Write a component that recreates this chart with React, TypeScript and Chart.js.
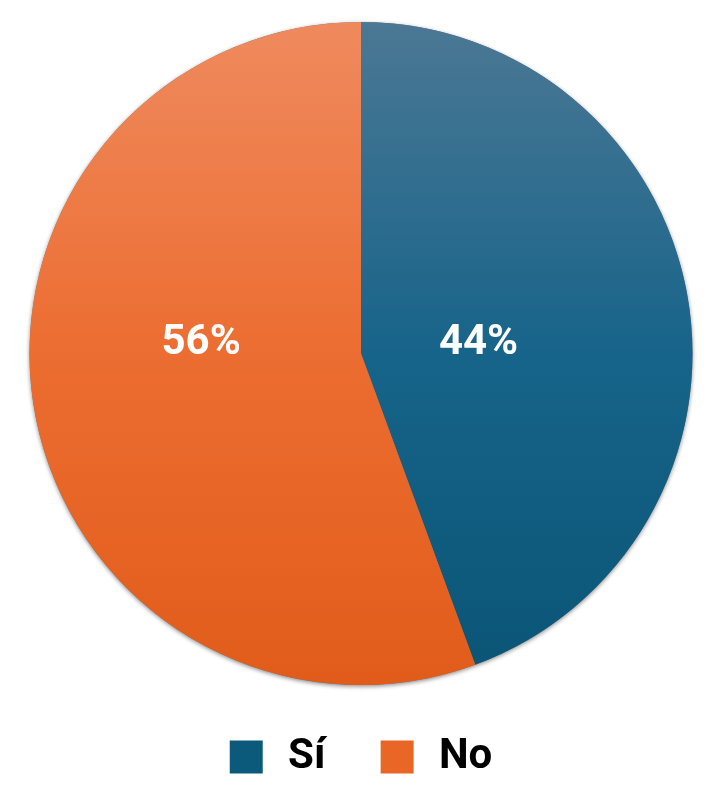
import React, { useEffect, useRef } from "react";
import { Chart, registerables } from "chart.js";

Chart.register(...registerables);

const categories = ["Sí", "No"];
const values = [44.4, 55.6];
const legendColors = ["#0b5a7c", "#ea6626"];
const gradientStops = [
  ["#4b7894", "#17648a", "#0a5576"],
  ["#ef8a5e", "#ec6d31", "#e15c1a"],
];
const labelRadialFactors = [0.36, 0.49];

const FONT = "Roboto, 'Liberation Sans', Arial, sans-serif";

const shadowPlugin = {
  id: "pieShadow",
  beforeDatasetsDraw(chart: any) {
    const meta = chart.getDatasetMeta(0);
    const arc = meta.data[0];
    if (!arc) return;
    const { x, y, outerRadius } = arc.getProps(["x", "y", "outerRadius"], true);
    const ctx = chart.ctx;
    ctx.save();
    ctx.beginPath();
    ctx.arc(x, y, outerRadius, 0, Math.PI * 2);
    ctx.shadowColor = "rgba(0,0,0,0.45)";
    ctx.shadowBlur = 4;
    ctx.shadowOffsetY = 1.5;
    ctx.fillStyle = "rgba(120,120,120,1)";
    ctx.fill();
    ctx.restore();
  },
};

const labelPlugin = {
  id: "pctLabels",
  afterDatasetsDraw(chart: any) {
    const meta = chart.getDatasetMeta(0);
    const data = chart.data.datasets[0].data as number[];
    const total = data.reduce((a, b) => a + b, 0);
    const ctx = chart.ctx;
    ctx.save();
    ctx.fillStyle = "#ffffff";
    ctx.font = `bold 42px ${FONT}`;
    ctx.textAlign = "center";
    ctx.textBaseline = "middle";
    meta.data.forEach((arc: any, i: number) => {
      const { x, y, startAngle, endAngle, outerRadius } = arc.getProps(
        ["x", "y", "startAngle", "endAngle", "outerRadius"],
        true
      );
      const mid = (startAngle + endAngle) / 2;
      const tx = x + Math.cos(mid) * outerRadius * labelRadialFactors[i];
      const ty = y - outerRadius * 0.03;
      const pct = Math.round((data[i] / total) * 100);
      ctx.fillText(`${pct}%`, tx, ty);
    });
    ctx.restore();
  },
};

export default function App() {
  const canvasRef = useRef<HTMLCanvasElement | null>(null);

  useEffect(() => {
    if (!canvasRef.current) return;
    const chart = new Chart(canvasRef.current, {
      type: "pie",
      data: {
        labels: categories,
        datasets: [
          {
            data: values,
            backgroundColor: (c: any) => {
              const ch = c.chart;
              const area = ch.chartArea;
              const i = c.dataIndex ?? 0;
              if (!area) return legendColors[i];
              const g = ch.ctx.createLinearGradient(0, area.top, 0, area.bottom);
              const stops = gradientStops[i];
              g.addColorStop(0, stops[0]);
              g.addColorStop(0.5, stops[1]);
              g.addColorStop(1, stops[2]);
              return g;
            },
            borderWidth: 0,
            hoverOffset: 0,
            offset: 0,
          },
        ],
      },
      options: {
        responsive: true,
        maintainAspectRatio: false,
        animation: false,
        layout: { padding: { top: 22, bottom: 0, left: 0, right: 0 } },
        plugins: {
          tooltip: { enabled: false },
          legend: {
            display: true,
            position: "bottom",
            labels: {
              boxWidth: 33,
              boxHeight: 33,
              padding: 51,
              color: "#000000",
              font: { family: FONT, size: 42, weight: "bold" },
              generateLabels: (ch: any) => {
                const items = Chart.overrides.pie.plugins.legend.labels.generateLabels(ch);
                return items.map((it: any, i: number) => ({
                  ...it,
                  text: "\u200A" + it.text + (i === 0 ? "\u200A" : ""),
                  fillStyle: legendColors[i],
                  strokeStyle: legendColors[i],
                  lineWidth: 0,
                }));
              },
            },
          },
        },
      },
      plugins: [shadowPlugin, labelPlugin],
    });
    return () => chart.destroy();
  }, []);

  return (
    <div style={{ position: "absolute", left: 0, top: 0, width: 722, height: 788, background: "#ffffff" }}>
      <canvas ref={canvasRef} />
    </div>
  );
}
